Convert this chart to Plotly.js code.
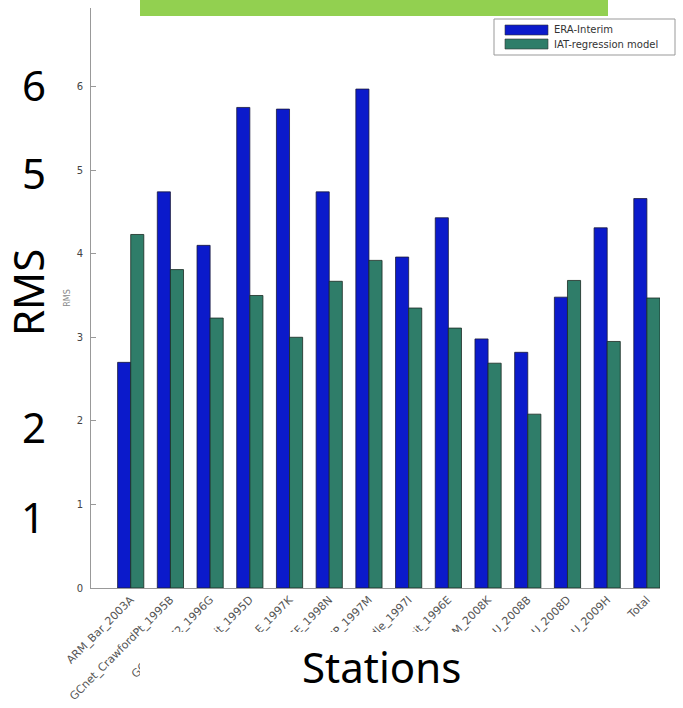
<!DOCTYPE html>
<html>
<head>
<meta charset="utf-8">
<script src="https://cdn.plot.ly/plotly-3.0.1.min.js"></script>
<style>html,body{margin:0;padding:0;background:#fff;}#chart{width:683px;height:708px;}</style>
</head>
<body>
<div id="chart"></div>
<script>
const stations = ["ARM_Bar_2003A", "GCnet_CrawfordPt_1995B", "GCnet_DYE2_1996G", "GCnet_Summit_1995D",
  "GCnet_NASA-E_1997K", "GCnet_NASA-SE_1998N", "GCnet_NGRIP_1997M", "GCnet_Saddle_1997I",
  "GCnet_Summit_1996E", "PROMICE_KAN_M_2008K", "PROMICE_KPC_U_2008B", "PROMICE_UPE_U_2008D",
  "PROMICE_NUK_U_2009H", "Total"];
const eraInterim = [2.70, 4.74, 4.10, 5.75, 5.73, 4.74, 5.97, 3.96, 4.43, 2.98, 2.82, 3.48, 4.31, 4.66];
const iatModel   = [4.23, 3.81, 3.23, 3.50, 3.00, 3.67, 3.92, 3.35, 3.11, 2.69, 2.08, 3.68, 2.95, 3.47];
const seriesNames = ["ERA-Interim", "IAT-regression model"];
const seriesColors = ["#0B1ACB", "#2F7D69"];
const yTicks = [0, 1, 2, 3, 4, 5, 6];
const bigLabels = ["6", "5", "RMS", "2", "1"];

// plot area in pixels
const L = 91, R = 660, T = 8, B = 588, W = 683, H = 708;
const px = x => (x - L) / (R - L);
const py = y => (B - y) / (B - T);

const traces = [
  {type: 'bar', name: seriesNames[0], x: stations, y: eraInterim, showlegend: false,
   marker: {color: seriesColors[0], line: {color: '#1a1a3a', width: 0.8}}},
  {type: 'bar', name: seriesNames[1], x: stations, y: iatModel, showlegend: false,
   marker: {color: seriesColors[1], line: {color: '#1a2a22', width: 0.8}}}
];

const bigFont = {family: 'Noto Sans', size: 42, color: '#000'};
const bigPos = [[34, 84], [34, 172], [27, 293], [34, 427], [33, 516]];
const annotations = bigLabels.map((t, i) => ({
  text: t, xref: 'paper', yref: 'paper', x: px(bigPos[i][0]), y: py(bigPos[i][1]),
  xanchor: 'center', yanchor: 'middle', showarrow: false, font: bigFont,
  textangle: t === 'RMS' ? -90 : 0
}));
annotations.push({
  text: 'Stations', xref: 'paper', yref: 'paper', x: px(381), y: py(667),
  xanchor: 'center', yanchor: 'middle', showarrow: false, font: bigFont
});

// custom legend (box, swatches, text)
const legendShapes = [
  {type: 'rect', xref: 'paper', yref: 'paper', x0: px(494), x1: px(675), y0: py(55), y1: py(19),
   fillcolor: '#fff', line: {color: '#999', width: 1}, layer: 'above'}
];
seriesNames.forEach((n, i) => {
  const yc = 30 + i * 14;
  legendShapes.push({type: 'rect', xref: 'paper', yref: 'paper', x0: px(505), x1: px(548),
    y0: py(yc + 5), y1: py(yc - 5), fillcolor: seriesColors[i], line: {color: '#333', width: 0.6}, layer: 'above'});
  annotations.push({text: n, xref: 'paper', yref: 'paper', x: px(552), y: py(yc),
    xanchor: 'left', yanchor: 'middle', showarrow: false,
    font: {family: 'DejaVu Sans', size: 10, color: '#333'}});
});

const layout = {
  width: W, height: H,
  margin: {l: L, r: W - R, t: T, b: H - B, pad: 0},
  paper_bgcolor: '#fff', plot_bgcolor: '#fff',
  barmode: 'group', bargap: 0.34, bargroupgap: 0,
  showlegend: false,
  xaxis: {type: 'category', range: [-1, 13.33], showline: true, linecolor: '#999', linewidth: 1,
    ticks: '', showgrid: false, zeroline: false, tickangle: -45, automargin: false,
    tickfont: {family: 'DejaVu Sans', size: 11, color: '#555'}},
  yaxis: {range: [0, 6.94], tickvals: yTicks, showline: true, linecolor: '#999', linewidth: 1,
    ticks: 'inside', ticklen: 5, tickcolor: '#999', showgrid: false, zeroline: false, automargin: false,
    ticklabelstandoff: 5,
    tickfont: {family: 'DejaVu Sans', size: 10, color: '#444'},
    title: {text: 'RMS', font: {family: 'DejaVu Sans', size: 8, color: '#888'}, standoff: 4}},
  annotations: annotations,
  shapes: [
    {type: 'rect', xref: 'paper', yref: 'paper', x0: px(140), x1: px(683), y0: py(632), y1: py(708),
     fillcolor: '#fff', line: {width: 0}, layer: 'above'},
    {type: 'rect', xref: 'paper', yref: 'paper', x0: px(140), x1: px(608), y0: py(16), y1: py(0),
     fillcolor: '#92D050', line: {width: 0}, layer: 'above'}
  ].concat(legendShapes)
};

Plotly.newPlot('chart', traces, layout, {displayModeBar: false, staticPlot: true});
</script>
</body>
</html>
